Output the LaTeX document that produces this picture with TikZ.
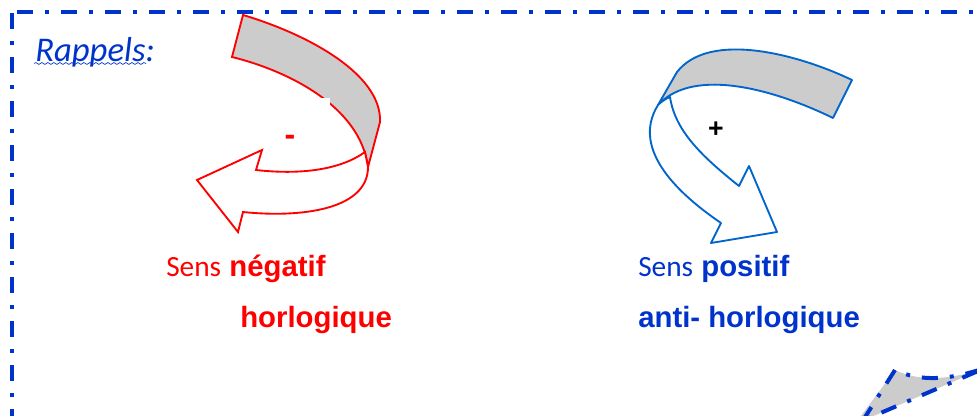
\documentclass[tikz,border=0pt]{standalone}
\usepackage{fontspec}
\setmainfont{Liberation Sans}
\newfontfamily\thinfont{Carlito}
\usepackage{tikz}
\usetikzlibrary{decorations.pathmorphing}
\definecolor{frameblue}{HTML}{0033CC}
\definecolor{arcblue}{HTML}{0066CC}
\definecolor{arcred}{HTML}{FF0000}
\definecolor{bandgray}{HTML}{CCCCCC}
\tikzset{
 frameline/.style={draw=frameblue,line width=3pt,dash pattern=on 12pt off 9pt on 3pt off 9pt},
 redarc/.style={draw=arcred,line width=1.4pt,line join=miter},
 bluearc/.style={draw=arcblue,line width=1.4pt,line join=round},
 label/.style={anchor=base west,inner sep=0pt,font=\fontsize{22}{26}\selectfont\bfseries}}
\begin{document}
\begin{tikzpicture}[x=0.75pt,y=-0.75pt]
\clip (0,0) rectangle (977,416);
% cadre
\draw[frameline] (17,12) -- (990,12);
\draw[frameline] (12,13) -- (12,430);
\node[inner sep=0pt,anchor=base west,text=frameblue,font=\thinfont\itshape\fontsize{26}{28}\selectfont] (rappels) at (35,62) {Rappels:};
\draw[draw=frameblue,line width=.5pt,decorate,decoration={snake,amplitude=.7pt,segment length=4.5pt}] (34,63.5) -- (146,63.5);
% fleche rouge
\draw[redarc,fill=bandgray] (243,15) .. controls (310,35) and (382,75) .. (380,122) -- (368,167) .. controls (360,105) and (285,70) .. (232,57) -- cycle;
\draw[redarc,fill=white] (365,152) .. controls (340,170) and (300,175) .. (256,170) -- (262,150) -- (197,180) -- (238,232) -- (243,212) .. controls (300,218) and (368,210) .. (368,167) -- cycle;
\fill[white] (320,98) rectangle (330,106);
\node[inner sep=0pt,text=arcred,font=\fontsize{24}{26}\selectfont\bfseries] (moins) at (290,140) {-};
% fleche bleue
\draw[bluearc,fill=bandgray] (852,80) .. controls (800,55) and (710,30) .. (677,72) -- (658,105) .. controls (695,65) and (780,92) .. (833,118) -- cycle;
\draw[bluearc,fill=white] (670,97) .. controls (675,130) and (700,155) .. (739,186) -- (749,166) -- (777,232) -- (711,243) -- (721,223) .. controls (680,195) and (630,150) .. (658,105) .. controls (661,102) and (665,99) .. (670,97) -- cycle;
\node[inner sep=0pt,font=\fontsize{20}{22}\selectfont\bfseries] (plus) at (716,130) {+};
% textes
\node[label,text=arcred] (negatif) at (166,277) {{\thinfont\mdseries Sens} négatif};
\node[label,text=arcred] (horloge) at (240,327) {horlogique};
\node[label,text=frameblue] (positif) at (638,277) {{\thinfont\mdseries Sens} positif};
\node[label,text=frameblue] (antihorloge) at (638,327) {anti- horlogique};
% coin suivant
\fill[bandgray] (895,370) .. controls (920,382) and (950,380) .. (985,368) -- (855,424) -- cycle;
\draw[frameline,dash phase=12pt] (895,370) .. controls (920,382) and (950,380) .. (985,368);
\draw[frameline] (977,371.5) -- (855,424);
\draw[frameline] (895,370) -- (860,425);
\end{tikzpicture}
\end{document}
